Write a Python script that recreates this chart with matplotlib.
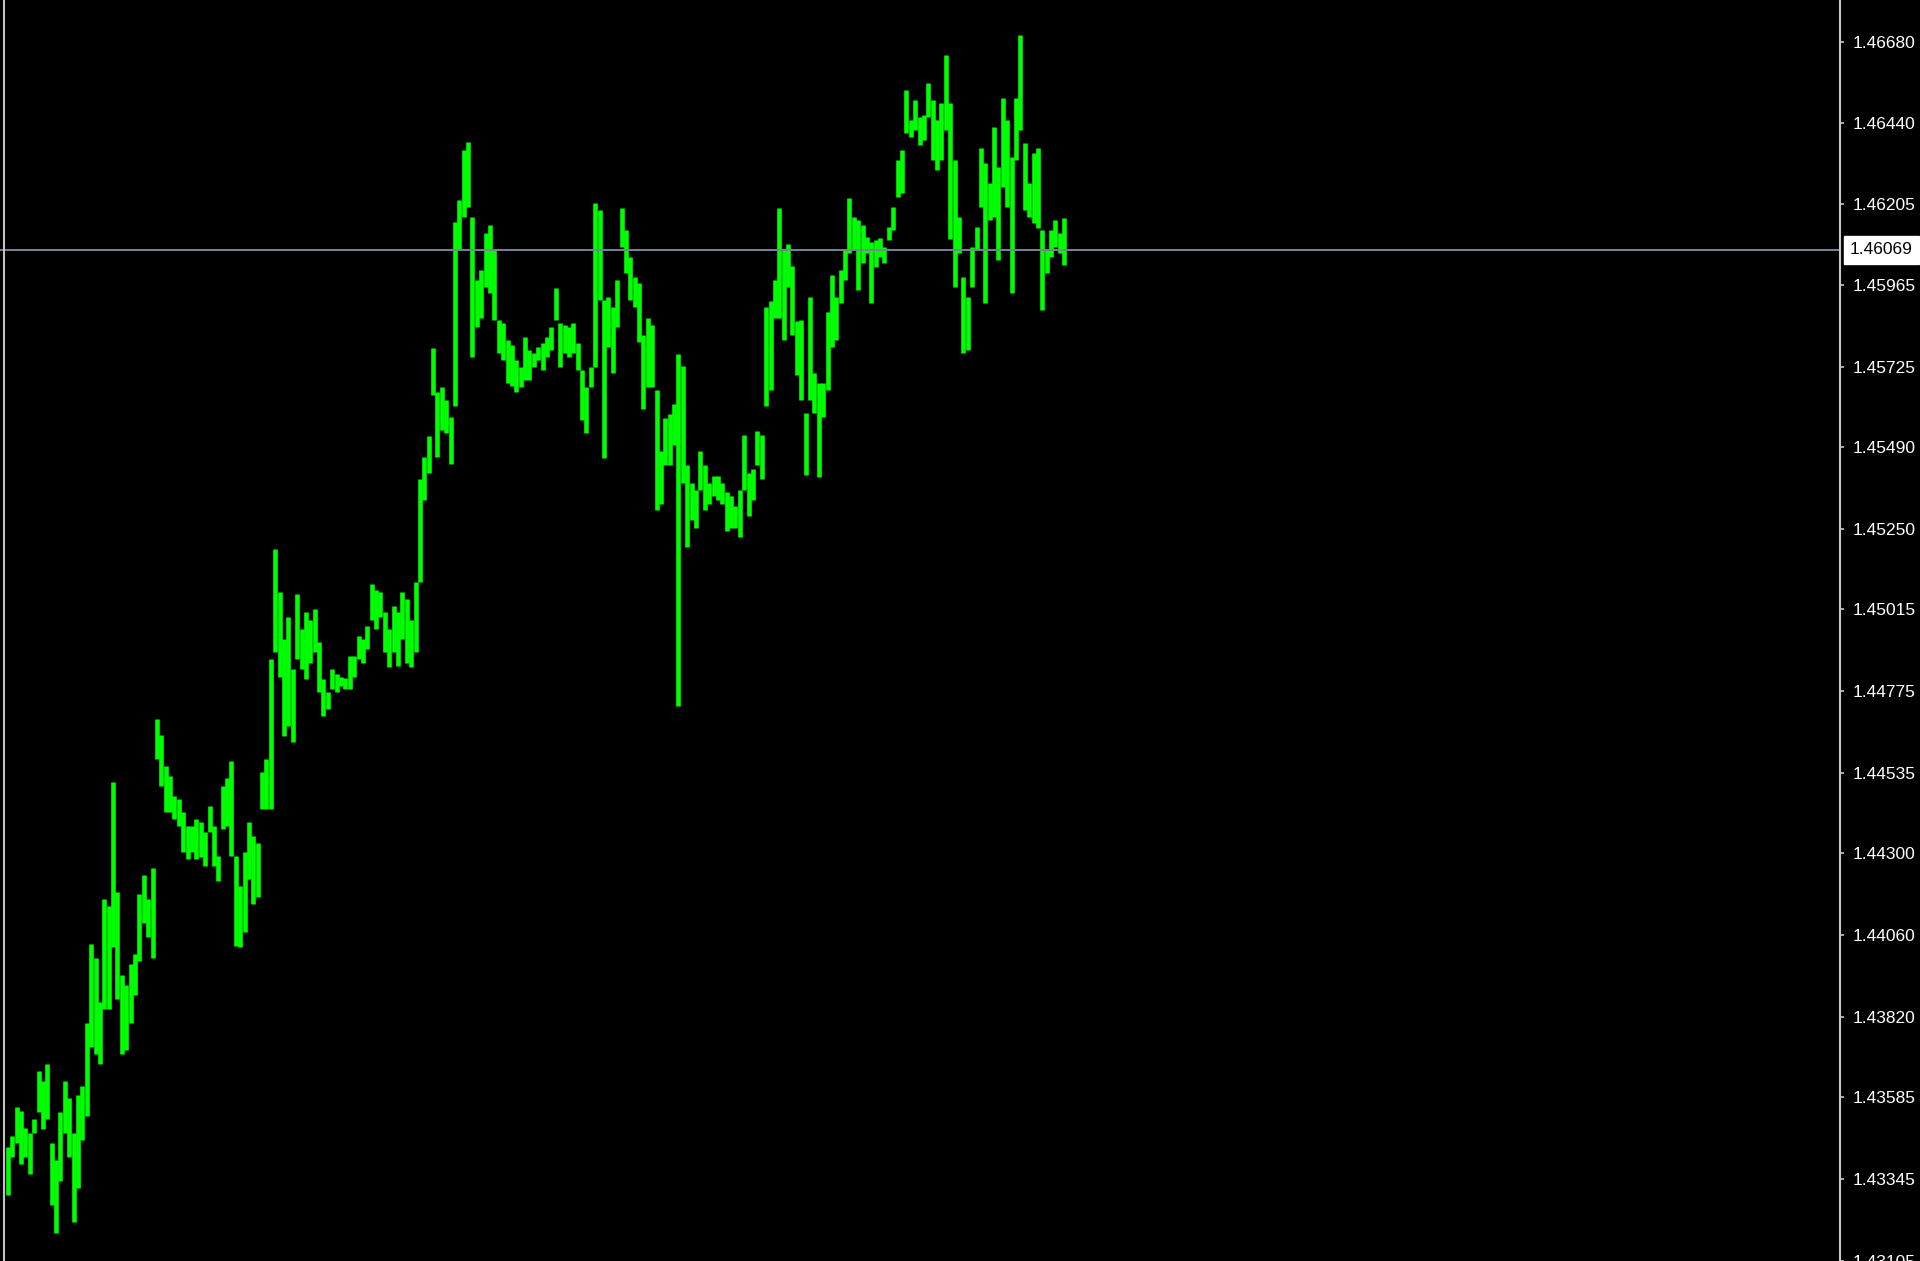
import matplotlib
matplotlib.use("Agg")
import matplotlib.pyplot as plt
from matplotlib.lines import Line2D

# hourly bar highs / lows, oldest first
highs = [
    1.43439, 1.43470, 1.43555, 1.43545, 1.43495, 1.43480, 1.43520, 1.43661, 1.43631, 1.43682,
    1.43450, 1.43399, 1.43540, 1.43631, 1.43581, 1.43480, 1.43591, 1.43616, 1.43803, 1.44035,
    1.43994, 1.43863, 1.44166, 1.44146, 1.44509, 1.44186, 1.43944, 1.43914, 1.43974, 1.44004,
    1.44181, 1.44237, 1.44166, 1.44257,
    1.44692, 1.44648, 1.44555, 1.44525, 1.44467, 1.44458, 1.44420, 1.44379, 1.44379, 1.44399,
    1.44390, 1.44361, 1.44438, 1.44379, 1.44291, 1.44496, 1.44520, 1.44569, 1.44291, 1.44203,
    1.44303, 1.44391, 1.44350, 1.44330, 1.44537, 1.44575, 1.44868, 1.45191, 1.45065, 1.44927,
    1.44994, 1.44839, 1.45059, 1.44956, 1.45006, 1.44985, 1.45015, 1.44918, 1.44810, 1.44772,
    1.44839, 1.44824, 1.44818, 1.44813, 1.44877, 1.44877, 1.44936, 1.44927, 1.44965, 1.45088,
    1.45073, 1.45065, 1.45006, 1.44956, 1.45024, 1.45006, 1.45065, 1.45044, 1.44985, 1.45094,
    1.45396, 1.45463, 1.45522, 1.45782, 1.45653, 1.45668, 1.45630, 1.45580, 1.46150,
    1.46216, 1.46363, 1.46386, 1.46166, 1.45982, 1.46010, 1.46119, 1.46143, 1.46070, 1.45864,
    1.45856, 1.45806, 1.45790, 1.45747, 1.45727, 1.45815, 1.45777, 1.45768, 1.45785, 1.45797,
    1.45815, 1.45844, 1.45958, 1.45856, 1.45850, 1.45844, 1.45856, 1.45797, 1.45718, 1.45668,
    1.45727, 1.46207, 1.46187, 1.45923, 1.45932, 1.45903, 1.45982, 1.46193, 1.46128, 1.46049,
    1.45990, 1.45973, 1.45820, 1.45870, 1.45850, 1.45659, 1.45478, 1.45577, 1.45589, 1.45618,
    1.45765,
    1.45730, 1.45437, 1.45387, 1.45366, 1.45478, 1.45437, 1.45387, 1.45407, 1.45407, 1.45387,
    1.45358, 1.45346, 1.45317, 1.45366, 1.45527, 1.45416, 1.45428, 1.45539, 1.45527, 1.45903,
    1.45920, 1.45982, 1.46193, 1.46072, 1.46087, 1.46023, 1.45862,
    1.45864, 1.45592, 1.45932, 1.45709, 1.45680, 1.45680, 1.45888, 1.45996, 1.45932, 1.46011,
    1.46070, 1.46222, 1.46166, 1.46157, 1.46143, 1.46108, 1.46093, 1.46099, 1.46105, 1.46078,
    1.46137, 1.46196, 1.46333, 1.46363, 1.46538, 1.46450, 1.46509, 1.46459, 1.46465, 1.46559,
    1.46509, 1.46450, 1.46500, 1.46641, 1.46500, 1.46333, 1.46166, 1.45990, 1.45932, 1.46078,
    1.46137, 1.46368, 1.46324, 1.46266, 1.46430, 1.46313, 1.46515, 1.46450, 1.46342, 1.46515,
    1.46699,
    1.46383, 1.46266, 1.46354, 1.46368, 1.46128, 1.46070, 1.46128, 1.46157, 1.46119, 1.46163,
]
lows = [
    1.43298, 1.43409, 1.43450, 1.43389, 1.43409, 1.43359, 1.43480, 1.43540, 1.43490, 1.43520,
    1.43268, 1.43187, 1.43338, 1.43480, 1.43409, 1.43217, 1.43318, 1.43460, 1.43530, 1.43732,
    1.43712, 1.43682, 1.43843, 1.43843, 1.44025, 1.43873, 1.43712, 1.43722, 1.43803, 1.43883,
    1.43984, 1.44095, 1.44055, 1.43994,
    1.44575, 1.44496, 1.44420, 1.44420, 1.44399, 1.44379, 1.44303, 1.44282, 1.44303, 1.44282,
    1.44290, 1.44262, 1.44361, 1.44262, 1.44218, 1.44370, 1.44380, 1.44291, 1.44027, 1.44024,
    1.44068, 1.44224, 1.44150, 1.44170, 1.44429, 1.44429, 1.44429, 1.44889, 1.44818, 1.44643,
    1.44672, 1.44625, 1.44868, 1.44839, 1.44810, 1.44859, 1.44889, 1.44772, 1.44701, 1.44722,
    1.44780, 1.44772, 1.44789, 1.44780, 1.44780, 1.44818, 1.44868, 1.44859, 1.44898, 1.44985,
    1.44956, 1.44994, 1.44889, 1.44845, 1.44889, 1.44848, 1.44927, 1.44859, 1.44845, 1.44889,
    1.45094, 1.45337, 1.45416, 1.45645, 1.45463, 1.45542, 1.45533, 1.45440, 1.45610,
    1.46070, 1.46166, 1.46196, 1.45756, 1.45844, 1.45870, 1.45961, 1.45944, 1.45864, 1.45768,
    1.45747, 1.45680, 1.45670, 1.45651, 1.45668, 1.45689, 1.45689, 1.45727, 1.45747, 1.45718,
    1.45756, 1.45777, 1.45864, 1.45727, 1.45768, 1.45756, 1.45768, 1.45718, 1.45571, 1.45533,
    1.45668, 1.45727, 1.45923, 1.45460, 1.45785, 1.45709, 1.45844, 1.46078, 1.46002, 1.45923,
    1.45903, 1.45800, 1.45604, 1.45668, 1.45668, 1.45305, 1.45325, 1.45437, 1.45437, 1.45498,
    1.44731,
    1.45387, 1.45199, 1.45276, 1.45255, 1.45366, 1.45305, 1.45325, 1.45346, 1.45337, 1.45325,
    1.45246, 1.45255, 1.45255, 1.45226, 1.45366, 1.45290, 1.45337, 1.45437, 1.45396, 1.45610,
    1.45659, 1.45870, 1.45870, 1.45806, 1.45961, 1.45820, 1.45703,
    1.45630, 1.45410, 1.45630, 1.45592, 1.45404, 1.45580, 1.45659, 1.45785, 1.45806, 1.45914,
    1.45982, 1.46061, 1.46070, 1.45952, 1.46031, 1.46061, 1.45914, 1.46020, 1.46049, 1.46031,
    1.46099, 1.46128, 1.46225, 1.46237, 1.46412, 1.46401, 1.46421, 1.46377, 1.46392, 1.46459,
    1.46333, 1.46304, 1.46333, 1.46421, 1.46100, 1.45961, 1.46061, 1.45768, 1.45777, 1.45961,
    1.46070, 1.46196, 1.45914, 1.46157, 1.46166, 1.46040, 1.46254, 1.46196, 1.45944, 1.46333,
    1.46421,
    1.46187, 1.46166, 1.46149, 1.46134, 1.45894, 1.46002, 1.46049, 1.46078, 1.46061, 1.46026,
]
last_price = 1.46069
price_ticks = [1.46680, 1.46440, 1.46205, 1.45965, 1.45725, 1.45490, 1.45250, 1.45015,
               1.44775, 1.44535, 1.44300, 1.44060, 1.43820, 1.43585, 1.43345, 1.43105]

W, H = 1920, 1261
fig = plt.figure(figsize=(W / 100, H / 100), dpi=100, facecolor="black")
ax = fig.add_axes([0, 0, 1840 / W, 1])
ax.set_facecolor("black")

bars = range(len(highs))
ax.vlines(bars, lows, highs, color="#00ff00", linewidth=3.3)

ax.axhline(last_price, color="#7a8594", linewidth=1.4)

ax.set_xlim(-1.8, 418.0)
ax.set_ylim(1.43104, 1.46802)
ax.set_xticks([])

font = ["Liberation Sans Narrow", "Liberation Sans"]
ax.yaxis.tick_right()
ax.set_yticks(price_ticks)
ax.set_yticklabels(["%.5f" % v for v in price_ticks], family=font, fontsize=12.5, color="white")
ax.tick_params(axis="y", direction="out", length=3, width=1.2, color="#c8c8c8", pad=6)

for side in ["left", "top", "bottom"]:
    ax.spines[side].set_visible(False)
ax.spines["right"].set_color("#c8c8c8")
ax.spines["right"].set_linewidth(1.5)

ax.annotate("%.5f" % last_price, xy=(1, last_price), xycoords=("axes fraction", "data"),
            xytext=(7, 0), textcoords="offset points", ha="left", va="center",
            family=font, fontsize=12.5, color="black",
            bbox=dict(boxstyle="square,pad=0.35", fc="white", ec="white"),
            annotation_clip=False)

fig.add_artist(Line2D([4 / W, 4 / W], [0, 1], color="#c0c0c0", linewidth=1.5))

fig.savefig("out.png", dpi=100, facecolor="black")
